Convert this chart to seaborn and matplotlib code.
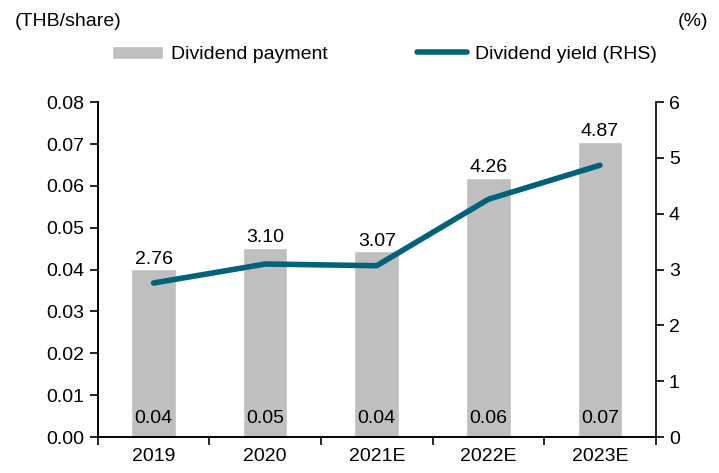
import pandas as pd
import numpy as np
import matplotlib.pyplot as plt
import seaborn as sns

years = ["2019", "2020", "2021E", "2022E", "2023E"]
div_payment = [0.0401, 0.0452, 0.0444, 0.0620, 0.0706]
div_yield = [2.76, 3.10, 3.07, 4.26, 4.87]

bar_color = "#BFBFBF"
line_color = "#006378"

sns.set_style("white")
plt.rcParams["font.family"] = ["Liberation Sans", "DejaVu Sans"]
plt.rcParams["font.size"] = 14
plt.rcParams["text.color"] = "black"
plt.rcParams["xtick.color"] = "black"
plt.rcParams["ytick.color"] = "black"

df = pd.DataFrame({"year": years, "payment": div_payment, "yield": div_yield})

fig, ax = plt.subplots(figsize=(7.19, 4.73), dpi=100)
fig.subplots_adjust(left=0.136, right=0.912, bottom=0.076, top=0.784)

sns.barplot(data=df, x="year", y="payment", color=bar_color, width=0.4,
            saturation=1, ax=ax, label="Dividend payment")
ax.set_ylim(0, 0.08)
ax.set_yticks(np.arange(0, 0.081, 0.01))
ax.set_yticklabels([f"{v:.2f}" for v in np.arange(0, 0.081, 0.01)])
ax.set_xlim(-0.5, 4.5)
ax.set_xlabel("")
ax.set_ylabel("")

# labels: yield on top of bars, payment near the base
cont = ax.containers[0]
ax.bar_label(cont, labels=[f"{v:.2f}" for v in div_yield], padding=1, fontsize=14)
for i, v in enumerate(div_payment):
    ax.text(i, 0.0045, f"{v:.2f}", ha="center", va="center", fontsize=14)

ax2 = ax.twinx()
sns.lineplot(data=df, x="year", y="yield", color=line_color, linewidth=4,
             sort=False, ax=ax2, label="Dividend yield (RHS)")
ax2.set_ylim(0, 6)
ax2.set_yticks(range(0, 7))
ax2.set_ylabel("")
ax2.set_xlim(-0.5, 4.5)

# x ticks at category boundaries
ax.set_xticks(np.arange(-0.5, 4.6, 1), minor=False)
ax.set_xticklabels([])
ax.set_xticks(range(5), minor=True)
ax.set_xticklabels(years, minor=True)
ax.tick_params(axis="x", which="major", direction="out", length=6, width=1.2, bottom=True)
ax.tick_params(axis="x", which="minor", length=0, pad=8, labelsize=14)
ax.tick_params(axis="y", direction="out", length=6, width=1.2, left=True, labelsize=14)
ax2.tick_params(axis="y", direction="out", length=6, width=1.2, right=True, labelsize=14)

for a in (ax, ax2):
    a.spines["top"].set_visible(False)
    for s in ("left", "right", "bottom"):
        a.spines[s].set_color("black")
        a.spines[s].set_linewidth(1.2)
ax.spines["right"].set_visible(False)

h1, l1 = ax.get_legend_handles_labels()
h2, l2 = ax2.get_legend_handles_labels()
for a in (ax, ax2):
    if a.get_legend() is not None:
        a.get_legend().remove()
fig.legend(h1 + h2, l1 + l2, loc="center", bbox_to_anchor=(0.535, 0.885), ncol=2,
           frameon=False, fontsize=14, handlelength=2.6, handletextpad=0.4,
           columnspacing=4.6)

fig.text(0.02, 0.955, "(THB/share)", fontsize=14, ha="left", va="center")
fig.text(0.985, 0.955, "(%)", fontsize=14, ha="right", va="center")

fig.savefig("out.png", dpi=100)
